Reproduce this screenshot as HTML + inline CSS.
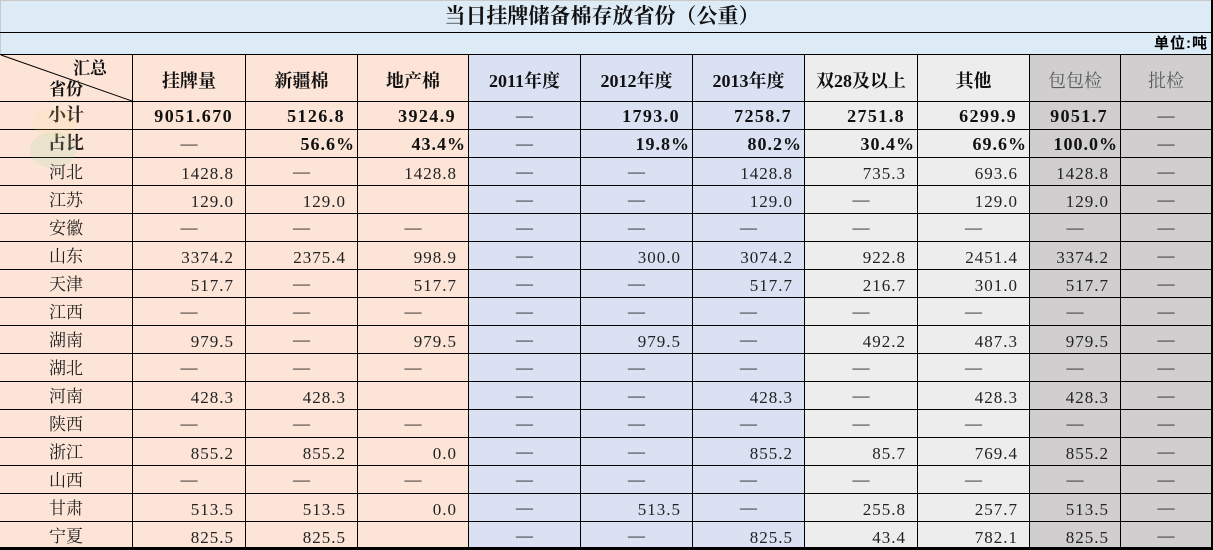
<!DOCTYPE html>
<html><head><meta charset="utf-8">
<style>
html,body{margin:0;padding:0;background:#fff;}
body{width:1213px;height:550px;position:relative;overflow:hidden;font-family:"Liberation Serif","Noto Serif CJK SC",serif;color:#1a1a1a;}
.band{position:absolute;left:0;top:0;width:1211px;height:54px;background:#ddebf7;box-sizing:border-box;border-left:1px solid #c9c9c9;border-top:1px solid #c9c9c9;}
.title{position:absolute;left:0;top:0;width:1204px;height:32px;line-height:33px;text-align:center;font-size:21px;font-weight:bold;font-family:"Liberation Serif","Noto Serif CJK SC",serif;color:#111;}
.hl{position:absolute;left:0;top:32px;width:1211px;height:1px;background:#000;}
.unit{position:absolute;right:5px;top:33px;height:21px;line-height:21px;font-size:15px;font-weight:bold;letter-spacing:1px;font-family:"Liberation Sans","Noto Sans CJK SC",sans-serif;color:#000;}
.rb{position:absolute;left:1211px;top:0;width:2px;height:550px;background:#000;}
.bb{position:absolute;left:0;top:547px;width:1213px;height:3px;background:#000;}
.grid{position:absolute;left:0;top:54px;display:grid;
grid-template-columns:132px 112px 111px 110px 111px 111px 111px 112px 111px 90px 90px;
grid-template-rows:46px repeat(16,27px);gap:1px;background:#000;padding:1px 0 0 0;width:1211px;}
.grid>div{box-sizing:border-box;overflow:hidden;white-space:nowrap;font-size:17px;line-height:27px;}
.grid>div:nth-child(11n+1),.grid>div:nth-child(11n+2),.grid>div:nth-child(11n+3),.grid>div:nth-child(11n+4){background:#fce4d6;}
.grid>div:nth-child(11n+5),.grid>div:nth-child(11n+6),.grid>div:nth-child(11n+7){background:#d9e1f2;}
.grid>div:nth-child(11n+8),.grid>div:nth-child(11n+9){background:#ededed;}
.grid>div:nth-child(11n+10),.grid>div:nth-child(11n+11){background:#d0cece;}
.grid>div.h{font-size:18px;font-weight:bold;line-height:46px;text-align:center;padding-top:3px;color:#111;}
.grid>div.gt{font-weight:normal;color:#5c5c5c;}
.grid>div.n{text-align:center;color:#222;padding-top:1px;}
.grid>div.nb{text-align:center;font-weight:bold;color:#2a2220;font-size:18px;}
.grid>div.r{text-align:right;padding-right:11px;letter-spacing:1px;color:#222;}
.grid>div.r span{position:relative;top:2px;}
.grid>div.B{text-align:right;padding-right:12px;letter-spacing:1.4px;font-weight:bold;font-size:18px;color:#111;}
.grid>div.B span{position:relative;top:1px;}
.grid>div.P{text-align:right;padding-right:2px;letter-spacing:1px;font-weight:bold;font-size:18px;color:#111;}
.grid>div.P span{position:relative;top:1px;}
.grid>div.c{text-align:center;color:#222;}
.diag{position:absolute;left:0;top:54px;}
.hz{position:absolute;left:73px;top:59px;font-size:17px;font-weight:bold;line-height:20px;color:#111;}
.sf{position:absolute;left:49px;top:80px;font-size:17px;font-weight:bold;line-height:20px;color:#111;}
.wm1{position:absolute;left:33px;top:108px;width:44px;height:30px;border-radius:50%;background:rgba(245,225,140,0.15);}
.wm2{position:absolute;left:30px;top:132px;width:46px;height:36px;border-radius:50%;background:rgba(150,220,170,0.15);}
</style></head><body>
<div class="band"></div>
<div class="title">当日挂牌储备棉存放省份（公重）</div>
<div class="hl"></div>
<div class="unit">单位:吨</div>
<div class="grid">
<div class="h"></div><div class="h">挂牌量</div><div class="h">新疆棉</div><div class="h">地产棉</div><div class="h">2011年度</div><div class="h">2012年度</div><div class="h">2013年度</div><div class="h">双28及以上</div><div class="h">其他</div><div class="h gt">包包检</div><div class="h gt">批检</div>

<div class="nb">小计</div><div class="B"><span>9051.670</span></div><div class="B"><span>5126.8</span></div><div class="B"><span>3924.9</span></div><div class="c">—</div><div class="B"><span>1793.0</span></div><div class="B"><span>7258.7</span></div><div class="B"><span>2751.8</span></div><div class="B"><span>6299.9</span></div><div class="B"><span>9051.7</span></div><div class="c">—</div>

<div class="nb">占比</div><div class="c">—</div><div class="P"><span>56.6%</span></div><div class="P"><span>43.4%</span></div><div class="c">—</div><div class="P"><span>19.8%</span></div><div class="P"><span>80.2%</span></div><div class="P"><span>30.4%</span></div><div class="P"><span>69.6%</span></div><div class="P"><span>100.0%</span></div><div class="c">—</div>

<div class="n">河北</div><div class="r"><span>1428.8</span></div><div class="c">—</div><div class="r"><span>1428.8</span></div><div class="c">—</div><div class="c">—</div><div class="r"><span>1428.8</span></div><div class="r"><span>735.3</span></div><div class="r"><span>693.6</span></div><div class="r"><span>1428.8</span></div><div class="c">—</div>

<div class="n">江苏</div><div class="r"><span>129.0</span></div><div class="r"><span>129.0</span></div><div></div><div class="c">—</div><div class="c">—</div><div class="r"><span>129.0</span></div><div class="c">—</div><div class="r"><span>129.0</span></div><div class="r"><span>129.0</span></div><div class="c">—</div>

<div class="n">安徽</div><div class="c">—</div><div class="c">—</div><div class="c">—</div><div class="c">—</div><div class="c">—</div><div class="c">—</div><div class="c">—</div><div class="c">—</div><div class="c">—</div><div class="c">—</div>

<div class="n">山东</div><div class="r"><span>3374.2</span></div><div class="r"><span>2375.4</span></div><div class="r"><span>998.9</span></div><div class="c">—</div><div class="r"><span>300.0</span></div><div class="r"><span>3074.2</span></div><div class="r"><span>922.8</span></div><div class="r"><span>2451.4</span></div><div class="r"><span>3374.2</span></div><div class="c">—</div>

<div class="n">天津</div><div class="r"><span>517.7</span></div><div class="c">—</div><div class="r"><span>517.7</span></div><div class="c">—</div><div class="c">—</div><div class="r"><span>517.7</span></div><div class="r"><span>216.7</span></div><div class="r"><span>301.0</span></div><div class="r"><span>517.7</span></div><div class="c">—</div>

<div class="n">江西</div><div class="c">—</div><div class="c">—</div><div class="c">—</div><div class="c">—</div><div class="c">—</div><div class="c">—</div><div class="c">—</div><div class="c">—</div><div class="c">—</div><div class="c">—</div>

<div class="n">湖南</div><div class="r"><span>979.5</span></div><div class="c">—</div><div class="r"><span>979.5</span></div><div class="c">—</div><div class="r"><span>979.5</span></div><div class="c">—</div><div class="r"><span>492.2</span></div><div class="r"><span>487.3</span></div><div class="r"><span>979.5</span></div><div class="c">—</div>

<div class="n">湖北</div><div class="c">—</div><div class="c">—</div><div class="c">—</div><div class="c">—</div><div class="c">—</div><div class="c">—</div><div class="c">—</div><div class="c">—</div><div class="c">—</div><div class="c">—</div>

<div class="n">河南</div><div class="r"><span>428.3</span></div><div class="r"><span>428.3</span></div><div></div><div class="c">—</div><div class="c">—</div><div class="r"><span>428.3</span></div><div class="c">—</div><div class="r"><span>428.3</span></div><div class="r"><span>428.3</span></div><div class="c">—</div>

<div class="n">陕西</div><div class="c">—</div><div class="c">—</div><div class="c">—</div><div class="c">—</div><div class="c">—</div><div class="c">—</div><div class="c">—</div><div class="c">—</div><div class="c">—</div><div class="c">—</div>

<div class="n">浙江</div><div class="r"><span>855.2</span></div><div class="r"><span>855.2</span></div><div class="r"><span>0.0</span></div><div class="c">—</div><div class="c">—</div><div class="r"><span>855.2</span></div><div class="r"><span>85.7</span></div><div class="r"><span>769.4</span></div><div class="r"><span>855.2</span></div><div class="c">—</div>

<div class="n">山西</div><div class="c">—</div><div class="c">—</div><div class="c">—</div><div class="c">—</div><div class="c">—</div><div class="c">—</div><div class="c">—</div><div class="c">—</div><div class="c">—</div><div class="c">—</div>

<div class="n">甘肃</div><div class="r"><span>513.5</span></div><div class="r"><span>513.5</span></div><div class="r"><span>0.0</span></div><div class="c">—</div><div class="r"><span>513.5</span></div><div class="c">—</div><div class="r"><span>255.8</span></div><div class="r"><span>257.7</span></div><div class="r"><span>513.5</span></div><div class="c">—</div>

<div class="n">宁夏</div><div class="r"><span>825.5</span></div><div class="r"><span>825.5</span></div><div></div><div class="c">—</div><div class="c">—</div><div class="r"><span>825.5</span></div><div class="r"><span>43.4</span></div><div class="r"><span>782.1</span></div><div class="r"><span>825.5</span></div><div class="c">—</div>
</div>
<svg class="diag" width="134" height="48" viewBox="0 0 134 48"><line x1="1" y1="1" x2="132" y2="47" stroke="#000" stroke-width="1"/></svg>
<div class="hz">汇总</div>
<div class="sf">省份</div>
<div class="wm1"></div>
<div class="wm2"></div>
<div class="rb"></div>
<div class="bb"></div>
</body></html>
